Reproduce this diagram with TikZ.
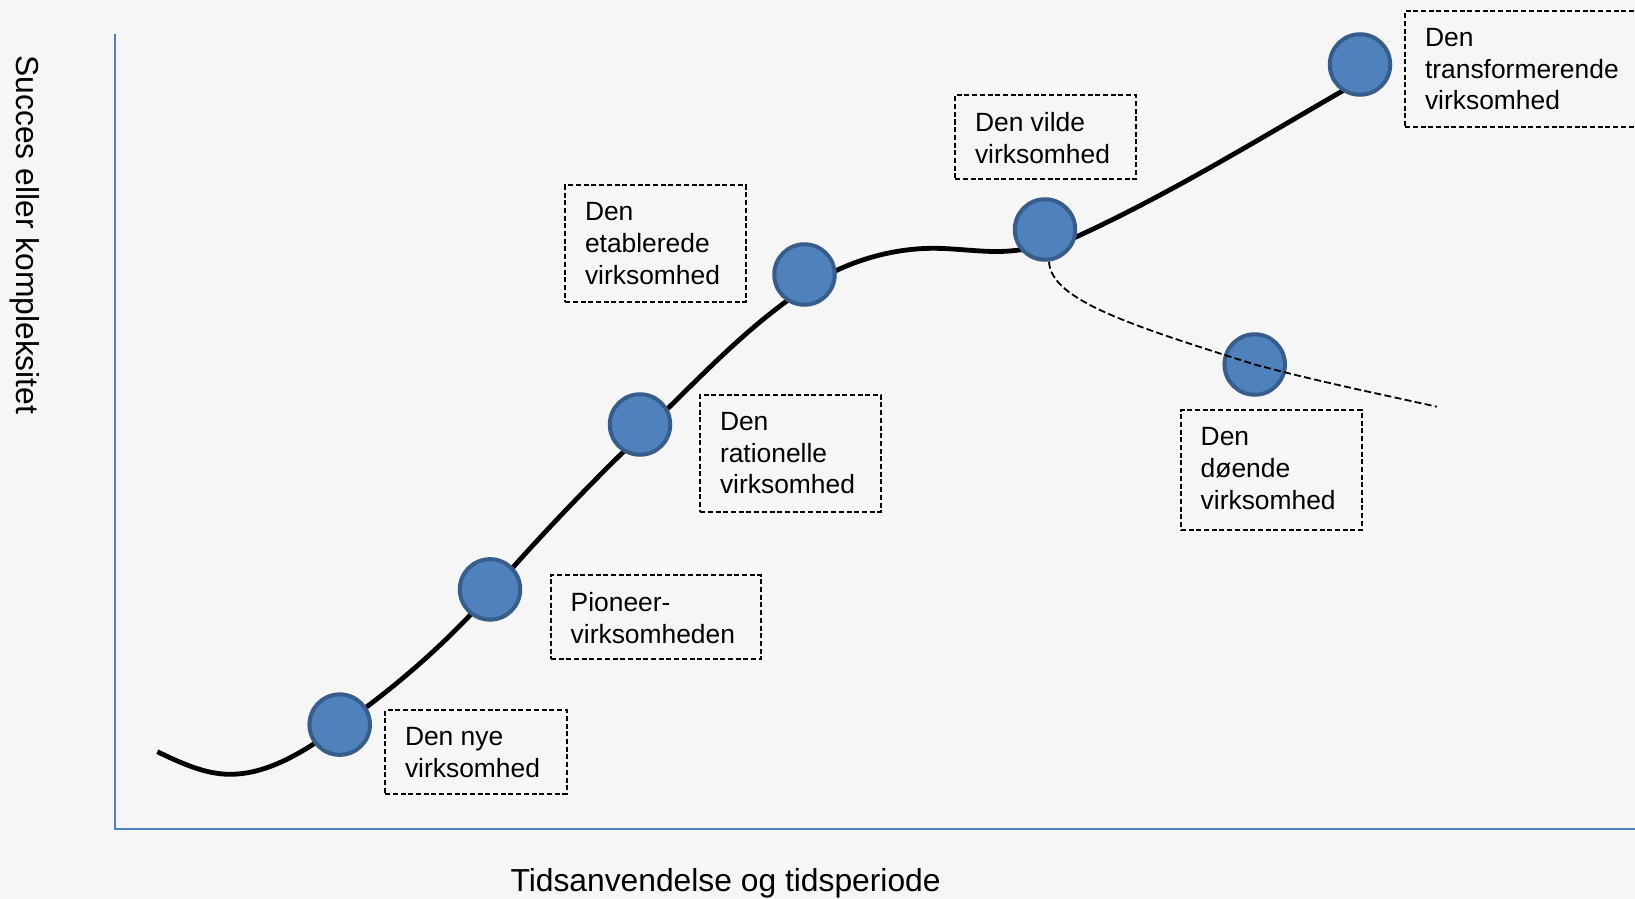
\documentclass[tikz,border=0pt]{standalone}
\usepackage{fontspec}
\setmainfont{Liberation Sans}
\definecolor{bgcol}{HTML}{F6F6F6}
\definecolor{axisblue}{HTML}{4F81BD}
\definecolor{dotfill}{HTML}{4F81BD}
\definecolor{dotline}{HTML}{385D8A}
\begin{document}
\begin{tikzpicture}[x=1pt,y=-1pt,
  axisline/.style={draw=axisblue,line width=2pt},
  trend/.style={draw=black,line width=4.8pt},
  decline/.style={draw=black,line width=1.8pt,dash pattern=on 7pt off 3.3pt},
  stage/.style={circle,draw=dotline,fill=dotfill,line width=4pt,minimum size=60.5pt,inner sep=0pt},
  stagebox/.style={draw=black,line width=1.8pt,dash pattern=on 5pt off 2.7pt,anchor=north west,inner sep=0pt},
  stagetext/.style={anchor=north west,inner sep=0pt,align=left,font=\fontsize{26.4}{31.7}\selectfont},
  axislabel/.style={inner sep=0pt,font=\fontsize{31.8}{38}\selectfont}]

% canvas
\clip (0,0) rectangle (1635,899);
\fill[bgcol] (0,0) rectangle (1635,899);

% axes
\coordinate (origin) at (115,829);
\coordinate (ytop) at (115,34.3);
\coordinate (xend) at (1640,829);
\draw[axisline] (ytop) -- (origin) -- (xend);

\node[axislabel,rotate=-90] (ylab) at (25,235) {Succes eller kompleksitet};
\node[axislabel] (xlab) at (725.6,883.5) {Tidsanvendelse og tidsperiode};

% life cycle curve
\draw[trend] (157.3,751.7) .. controls (180.2,762.6) and (204.6,774.3) .. (230,774.3)
  .. controls (270.4,774.3) and (307.9,748.7) .. (341,725.5)
  .. controls (396.6,686.5) and (448.5,641.2) .. (493,590)
  .. controls (541.3,534.4) and (592.7,481.1) .. (645.8,430)
  .. controls (698.9,378.9) and (749.4,323.4) .. (811.7,284)
  .. controls (847.4,261.4) and (891.1,248.3) .. (933.3,248.3)
  .. controls (959.9,248.3) and (986.5,253.4) .. (1013,250.7)
  .. controls (1034.6,248.5) and (1057,245.8) .. (1076.7,236.7)
  .. controls (1176.8,190.6) and (1270.5,131.9) .. (1366,77.4);

% stages
\node[stage] (c1) at (339.7,724.6) {};
\node[stage] (c2) at (490,589.4) {};
\node[stage] (c3) at (640,424.5) {};
\node[stage] (c4) at (804.5,274.5) {};
\node[stage] (c5) at (1045,229.5) {};
\node[stage] (c6) at (1254.7,364.5) {};
\node[stage] (c7) at (1360,64.5) {};

% declining branch
\coordinate (dend) at (1436.7,406.7);
\draw[decline] ([xshift=4pt]c5.south) .. controls (1051,300) and (1130,325) .. (c6.center)
  .. controls (1320,382) and (1380,394) .. (dend);

% labels
\node[stagebox,minimum width=181.4pt,minimum height=83.4pt] (bA) at (384.3,709.3) {};
\node[stagetext] (tA) at ([shift={(20.5,18)}]bA.north west) {Den nye\\virksomhed};

\node[stagebox,minimum width=210pt,minimum height=84pt] (bB) at (550,574.3) {};
\node[stagetext] (tB) at ([shift={(20.5,18)}]bB.north west) {Pioneer-\\virksomheden};

\node[stagebox,minimum width=180.7pt,minimum height=116.7pt] (bC) at (699.3,394) {};
\node[stagetext] (tC) at ([shift={(20.5,18)}]bC.north west) {Den\\rationelle\\virksomhed};

\node[stagebox,minimum width=180.7pt,minimum height=116.4pt] (bD) at (564.3,184.3) {};
\node[stagetext] (tD) at ([shift={(20.5,18)}]bD.north west) {Den\\etablerede\\virksomhed};

\node[stagebox,minimum width=180.7pt,minimum height=84pt] (bE) at (954.3,94.3) {};
\node[stagetext] (tE) at ([shift={(20.5,18)}]bE.north west) {Den vilde\\virksomhed};

\node[stagebox,minimum width=180.7pt,minimum height=119.7pt] (bF) at (1180,409.3) {};
\node[stagetext] (tF) at ([shift={(20.5,18)}]bF.north west) {Den\\døende\\virksomhed};

\node[stagebox,minimum width=245pt,minimum height=116pt] (bG) at (1404.3,10) {};
\node[stagetext] (tG) at ([shift={(20.5,18)}]bG.north west) {Den\\transformerende\\virksomhed};
\end{tikzpicture}
\end{document}
